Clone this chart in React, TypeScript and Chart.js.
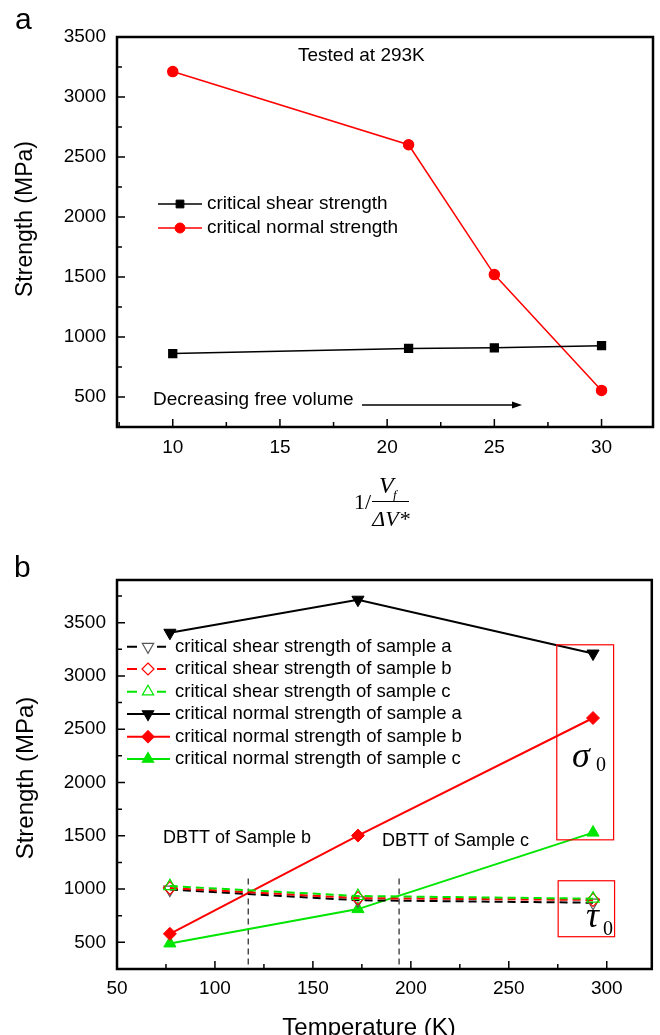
import React, { useEffect, useRef } from 'react';
import { Chart, registerables } from 'chart.js';

Chart.register(...registerables);

// ---------- Panel a data ----------
const volumeRatio = [10, 21, 25, 30];
const shearStrengthA = [862, 905, 910, 928];
const normalStrengthA = [3212, 2602, 1520, 555];
const panelAXTicks = [10, 15, 20, 25, 30];
const panelAYTicks = [500, 1000, 1500, 2000, 2500, 3000, 3500];
const panelALegend = ['critical shear strength', 'critical normal strength'];

// ---------- Panel b data ----------
const temperatures = [77, 173, 293];
const shearSampleA = [995, 895, 872];
const shearSampleB = [1010, 915, 898];
const shearSampleC = [1028, 935, 910];
const normalSampleA = [3405, 3715, 3210];
const normalSampleB = [580, 1502, 2605];
const normalSampleC = [490, 812, 1530];
const dbttTemps = [117, 194];
const dbttLabels = ['DBTT of Sample b', 'DBTT of Sample c'];
const panelBXTicks = [50, 100, 150, 200, 250, 300];
const panelBYTicks = [500, 1000, 1500, 2000, 2500, 3000, 3500];
const panelBLegend = [
  'critical shear strength of sample a',
  'critical shear strength of sample b',
  'critical shear strength of sample c',
  'critical normal strength of sample a',
  'critical normal strength of sample b',
  'critical normal strength of sample c',
];

const SANS = '"Liberation Sans", Arial, sans-serif';
const SERIF = '"Liberation Serif", "Times New Roman", serif';
const RED = '#ff0000';
const GREEN = '#00e600';

function marker(ctx: CanvasRenderingContext2D, style: string, x: number, y: number, r: number, fill: string, stroke: string, rot = 0, lw = 1) {
  ctx.save();
  ctx.beginPath();
  if (style === 'circle') {
    ctx.arc(x, y, r, 0, Math.PI * 2);
  } else if (style === 'rect') {
    const s = r * Math.SQRT1_2;
    ctx.rect(x - s, y - s, 2 * s, 2 * s);
  } else if (style === 'rectRot') {
    ctx.moveTo(x, y - r);
    ctx.lineTo(x + r, y);
    ctx.lineTo(x, y + r);
    ctx.lineTo(x - r, y);
    ctx.closePath();
  } else {
    let a = (rot * Math.PI) / 180;
    for (let i = 0; i < 3; i++) {
      const px = x + Math.sin(a) * r;
      const py = y - Math.cos(a) * r;
      if (i === 0) ctx.moveTo(px, py);
      else ctx.lineTo(px, py);
      a += (2 * Math.PI) / 3;
    }
    ctx.closePath();
  }
  ctx.fillStyle = fill;
  ctx.fill();
  ctx.strokeStyle = stroke;
  ctx.lineWidth = lw;
  ctx.stroke();
  ctx.restore();
}

function minors(majors: number[], min: number, max: number) {
  const step = majors[1] - majors[0];
  const out: number[] = [];
  for (let v = majors[0] - step / 2; v <= max; v += step) {
    if (v > min && v < max) out.push(v);
  }
  return out;
}

function drawFrame(chart: any, xMajor: number[], yMajor: number[]) {
  const { ctx, chartArea: a, scales } = chart;
  const x = scales.x;
  const y = scales.y;
  ctx.save();
  ctx.strokeStyle = '#000';
  ctx.lineWidth = 1.5;
  ctx.beginPath();
  xMajor.forEach((v) => {
    const p = x.getPixelForValue(v);
    ctx.moveTo(p, a.bottom);
    ctx.lineTo(p, a.bottom - 8);
  });
  minors(xMajor, x.min, x.max).forEach((v) => {
    const p = x.getPixelForValue(v);
    ctx.moveTo(p, a.bottom);
    ctx.lineTo(p, a.bottom - 5);
  });
  yMajor.forEach((v) => {
    const p = y.getPixelForValue(v);
    ctx.moveTo(a.left, p);
    ctx.lineTo(a.left + 8, p);
  });
  minors(yMajor, y.min, y.max).forEach((v) => {
    const p = y.getPixelForValue(v);
    ctx.moveTo(a.left, p);
    ctx.lineTo(a.left + 5, p);
  });
  ctx.stroke();
  ctx.lineWidth = 2.5;
  ctx.strokeRect(a.left, a.top, a.right - a.left, a.bottom - a.top);
  ctx.restore();
}

function yTitle(ctx: CanvasRenderingContext2D, text: string, cx: number, cy: number, size: number) {
  ctx.save();
  ctx.translate(cx, cy);
  ctx.rotate(-Math.PI / 2);
  ctx.font = `${size}px ${SANS}`;
  ctx.fillStyle = '#000';
  ctx.textAlign = 'center';
  ctx.textBaseline = 'middle';
  ctx.fillText(text, 0, 0);
  ctx.restore();
}

function scaleOpts(min: number, max: number, ticks: number[], fit: (s: any) => void, pad: number) {
  return {
    type: 'linear' as const,
    min,
    max,
    grid: { display: false, drawTicks: false },
    border: { display: false },
    afterBuildTicks: (s: any) => {
      s.ticks = ticks.map((v) => ({ value: v }));
    },
    afterFit: fit,
    ticks: {
      autoSkip: false,
      maxRotation: 0,
      padding: pad,
      color: '#000',
      font: { family: SANS, size: 19 },
      callback: (v: any) => String(v),
    },
  };
}

export default function App() {
  const refA = useRef<HTMLCanvasElement>(null);
  const refB = useRef<HTMLCanvasElement>(null);

  useEffect(() => {
    const pts = (xs: number[], ys: number[]) => xs.map((x, i) => ({ x, y: ys[i] }));

    const panelAPlugin = {
      id: 'panelA',
      afterDraw(chart: any) {
        const ctx: CanvasRenderingContext2D = chart.ctx;
        drawFrame(chart, panelAXTicks, panelAYTicks);
        ctx.save();
        ctx.fillStyle = '#000';
        // panel letter
        ctx.font = `30px ${SANS}`;
        ctx.textBaseline = 'alphabetic';
        ctx.fillText('a', 15, 29);
        // y title
        yTitle(ctx, 'Strength (MPa)', 26, 219, 23);
        // annotation
        ctx.font = `19px ${SANS}`;
        ctx.textBaseline = 'middle';
        ctx.fillText('Tested at 293K', 298, 56);
        ctx.fillText('Decreasing free volume', 153, 400);
        // arrow
        ctx.strokeStyle = '#000';
        ctx.lineWidth = 1.3;
        ctx.beginPath();
        ctx.moveTo(362, 405);
        ctx.lineTo(514, 405);
        ctx.stroke();
        ctx.beginPath();
        ctx.moveTo(522, 405);
        ctx.lineTo(512, 401.5);
        ctx.lineTo(512, 408.5);
        ctx.closePath();
        ctx.fill();
        // legend
        const leg = [
          { y: 204, color: '#000', style: 'rect', r: 5.5 },
          { y: 228, color: RED, style: 'circle', r: 5 },
        ];
        leg.forEach((l, i) => {
          ctx.strokeStyle = l.color;
          ctx.lineWidth = 1.5;
          ctx.beginPath();
          ctx.moveTo(158, l.y);
          ctx.lineTo(202, l.y);
          ctx.stroke();
          marker(ctx, l.style, 180, l.y, l.r, l.color, l.color);
          ctx.fillStyle = '#000';
          ctx.font = `19px ${SANS}`;
          ctx.fillText(panelALegend[i], 207, l.y);
        });
        // x title: 1 / (Vf / ΔV*)
        ctx.fillStyle = '#000';
        ctx.textBaseline = 'alphabetic';
        ctx.font = `22px ${SERIF}`;
        ctx.fillText('1/', 354, 509);
        ctx.font = `italic 24px ${SERIF}`;
        ctx.fillText('V', 379, 493);
        ctx.font = `italic 13px ${SERIF}`;
        ctx.fillText('f', 393, 499);
        ctx.lineWidth = 1;
        ctx.strokeStyle = '#000';
        ctx.beginPath();
        ctx.moveTo(372, 501.5);
        ctx.lineTo(409, 501.5);
        ctx.stroke();
        ctx.font = `italic 22px ${SERIF}`;
        ctx.textAlign = 'center';
        ctx.fillText('ΔV*', 391, 526);
        ctx.restore();
      },
    };

    const chartA = new Chart(refA.current!, {
      type: 'line',
      data: {
        datasets: [
          {
            label: panelALegend[0],
            data: pts(volumeRatio, shearStrengthA),
            borderColor: '#000',
            backgroundColor: '#000',
            borderWidth: 1.5,
            pointStyle: 'rect',
            pointRadius: 5.5,
            pointBackgroundColor: '#000',
            pointBorderColor: '#000',
          },
          {
            label: panelALegend[1],
            data: pts(volumeRatio, normalStrengthA),
            borderColor: RED,
            backgroundColor: RED,
            borderWidth: 1.5,
            pointStyle: 'circle',
            pointRadius: 5,
            pointBackgroundColor: RED,
            pointBorderColor: RED,
          },
        ],
      },
      options: {
        animation: false,
        responsive: false,
        events: [],
        layout: { padding: { left: 0, top: 37, right: 7, bottom: 0 } },
        plugins: { legend: { display: false }, tooltip: { enabled: false } },
        scales: {
          x: scaleOpts(7.4, 32.4, panelAXTicks, (s: any) => { s.height = 108; }, 9),
          y: scaleOpts(250, 3500, panelAYTicks, (s: any) => { s.width = 117; }, 11),
        },
      } as any,
      plugins: [panelAPlugin],
    });

    const panelBPlugin = {
      id: 'panelB',
      beforeDatasetsDraw(chart: any) {
        const { ctx, chartArea: a, scales } = chart;
        ctx.save();
        ctx.strokeStyle = '#333';
        ctx.lineWidth = 1.3;
        ctx.setLineDash([6, 4]);
        dbttTemps.forEach((t) => {
          const px = scales.x.getPixelForValue(t);
          ctx.beginPath();
          ctx.moveTo(px, scales.y.getPixelForValue(1100));
          ctx.lineTo(px, a.bottom);
          ctx.stroke();
        });
        ctx.restore();
      },
      afterDraw(chart: any) {
        const ctx: CanvasRenderingContext2D = chart.ctx;
        const { scales } = chart;
        drawFrame(chart, panelBXTicks, panelBYTicks);
        ctx.save();
        ctx.fillStyle = '#000';
        ctx.font = `30px ${SANS}`;
        ctx.textBaseline = 'alphabetic';
        ctx.fillText('b', 14, 42);
        yTitle(ctx, 'Strength (MPa)', 26, 243, 24);
        ctx.font = `24px ${SANS}`;
        ctx.textAlign = 'center';
        ctx.fillText('Temperature (K)', 369, 500);
        ctx.textAlign = 'left';
        // DBTT labels
        ctx.font = `18px ${SANS}`;
        ctx.textBaseline = 'middle';
        ctx.fillText(dbttLabels[0], 163, 303);
        ctx.fillText(dbttLabels[1], 382, 306);
        // red boxes
        ctx.strokeStyle = RED;
        ctx.lineWidth = 1.2;
        const box = (x0: number, x1: number, y0: number, y1: number) => {
          const px0 = scales.x.getPixelForValue(x0);
          const px1 = scales.x.getPixelForValue(x1);
          const py0 = scales.y.getPixelForValue(y0);
          const py1 = scales.y.getPixelForValue(y1);
          ctx.strokeRect(px0, py1, px1 - px0, py0 - py1);
        };
        box(274.5, 303.5, 1462, 3292);
        box(275.2, 304, 553, 1078);
        // sigma0 / tau0
        ctx.textBaseline = 'alphabetic';
        ctx.fillStyle = '#000';
        ctx.font = `italic 36px ${SERIF}`;
        ctx.fillText('σ', 572, 232);
        ctx.fillText('τ', 586, 392);
        ctx.font = `20px ${SERIF}`;
        ctx.fillText('0', 596, 236);
        ctx.fillText('0', 603, 400);
        // legend
        const leg = [
          { color: '#000', mcol: '#555', style: 'triangle', rot: 180, open: true },
          { color: RED, mcol: RED, style: 'rectRot', rot: 0, open: true },
          { color: GREEN, mcol: GREEN, style: 'triangle', rot: 0, open: true },
          { color: '#000', mcol: '#000', style: 'triangle', rot: 180, open: false },
          { color: RED, mcol: RED, style: 'rectRot', rot: 0, open: false },
          { color: GREEN, mcol: GREEN, style: 'triangle', rot: 0, open: false },
        ];
        const ys = [111.7, 134, 156.7, 179, 201.7, 224];
        leg.forEach((l, i) => {
          const y = ys[i];
          ctx.strokeStyle = l.color;
          ctx.lineWidth = 2;
          ctx.beginPath();
          if (l.open) {
            ctx.moveTo(127, y);
            ctx.lineTo(137, y);
            ctx.moveTo(157, y);
            ctx.lineTo(166, y);
          } else {
            ctx.moveTo(127, y);
            ctx.lineTo(170, y);
          }
          ctx.stroke();
          const r = l.style === 'rectRot' ? 6 : 6.5;
          marker(ctx, l.style, 148, y, r, l.open ? 'rgba(255,255,255,1)' : l.mcol, l.mcol, l.rot, 1.2);
          ctx.fillStyle = '#000';
          ctx.font = `18.5px ${SANS}`;
          ctx.textBaseline = 'middle';
          ctx.fillText(panelBLegend[i], 175, y);
        });
        ctx.restore();
      },
    };

    const shear = (label: string, ys: number[], color: string, mcol: string, style: string, rot: number) => ({
      label,
      data: pts(temperatures, ys),
      borderColor: color,
      borderWidth: 2,
      borderDash: [8, 5],
      pointStyle: style,
      pointRotation: rot,
      pointRadius: style === 'rectRot' ? 6.5 : 7,
      pointBorderWidth: 1.2,
      pointBackgroundColor: 'rgba(255,255,255,0)',
      pointBorderColor: mcol,
    });
    const normal = (label: string, ys: number[], color: string, style: string, rot: number) => ({
      label,
      data: pts(temperatures, ys),
      borderColor: color,
      borderWidth: 2,
      pointStyle: style,
      pointRotation: rot,
      pointRadius: style === 'rectRot' ? 6.5 : 7,
      pointBorderWidth: 1,
      pointBackgroundColor: color,
      pointBorderColor: color,
    });

    const chartB = new Chart(refB.current!, {
      type: 'line',
      data: {
        datasets: [
          shear(panelBLegend[2], shearSampleC, GREEN, GREEN, 'triangle', 0),
          shear(panelBLegend[1], shearSampleB, RED, RED, 'rectRot', 0),
          shear(panelBLegend[0], shearSampleA, '#000', '#555', 'triangle', 180),
          normal(panelBLegend[3], normalSampleA, '#000', 'triangle', 180),
          normal(panelBLegend[4], normalSampleB, RED, 'rectRot', 0),
          normal(panelBLegend[5], normalSampleC, GREEN, 'triangle', 0),
        ],
      },
      options: {
        animation: false,
        responsive: false,
        events: [],
        layout: { padding: { left: 0, top: 45, right: 7, bottom: 0 } },
        plugins: { legend: { display: false }, tooltip: { enabled: false } },
        scales: {
          x: scaleOpts(50, 323, panelBXTicks, (s: any) => { s.height = 66; }, 8),
          y: scaleOpts(250, 3900, panelBYTicks, (s: any) => { s.width = 117; }, 11),
        },
      } as any,
      plugins: [panelBPlugin],
    });

    return () => {
      chartA.destroy();
      chartB.destroy();
    };
  }, []);

  return (
    <div style={{ position: 'absolute', left: 0, top: 0, width: 660, height: 1035, background: '#fff' }}>
      <canvas ref={refA} width={660} height={535} style={{ position: 'absolute', left: 0, top: 0, width: 660, height: 535 }} />
      <canvas ref={refB} width={660} height={500} style={{ position: 'absolute', left: 0, top: 535, width: 660, height: 500 }} />
    </div>
  );
}
